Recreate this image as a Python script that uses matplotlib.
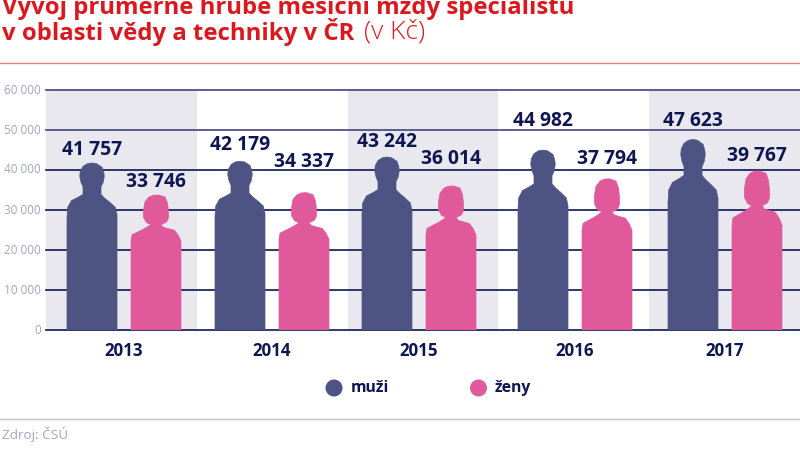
import matplotlib
matplotlib.use("Agg")
import matplotlib.pyplot as plt
from matplotlib.patches import PathPatch, Circle
from matplotlib.path import Path
import numpy as np

years = ["2013", "2014", "2015", "2016", "2017"]
men = [41757, 42179, 43242, 44982, 47623]
women = [33746, 34337, 36014, 37794, 39767]
men_labels = ["41 757", "42 179", "43 242", "44 982", "47 623"]
women_labels = ["33 746", "34 337", "36 014", "37 794", "39 767"]
y_ticks = [0, 10000, 20000, 30000, 40000, 50000, 60000]
y_labels = ["0", "10 000", "20 000", "30 000", "40 000", "50 000", "60 000"]

# layout (pixels of the 800x449 canvas)
W, H = 800, 449
men_cx = [92, 240, 387, 543, 693]
women_cx = [156, 304, 451, 607, 757]
men_lab = [(92, 150), (240, 145), (387, 142), (543, 121), (693, 121)]
women_lab = [(156, 182), (304, 162), (451, 159), (607, 159), (757, 156)]
year_x = [124, 272, 419, 575, 725]

NAVY = "#0d1650"
MAN = "#4d5484"
WOMAN = "#e0599a"
GREY = "#a4a6c2"
BAND = "#e8e8ee"
RED = "#d9191f"

# silhouettes: (x in half-widths, y in fraction of figure height)
man_shape = [(-1,0),(-1,.67),(-.97,.735),(-.82,.775),(-.55,.795),(-.36,.812),(-.36,.858),(-.44,.885),(-.49,.92),(-.47,.95),(-.36,.98),(-.18,.996),(0,1),
             (.18,.996),(.40,.975),(.47,.945),(.49,.92),(.45,.885),(.36,.858),(.36,.812),(.5,.79),(.73,.762),(.93,.735),(1,.69),(1,0)]
woman_shape = [(-1,0),(-1,.66),(-.96,.705),(-.47,.75),(-.2,.78),(-.38,.796),(-.5,.834),(-.5,.89),(-.44,.95),(-.28,.985),(-.1,.998),(.1,1),
               (.36,.985),(.46,.94),(.5,.88),(.5,.83),(.42,.80),(.2,.78),(.3,.76),(.73,.74),(.88,.705),(1,.66),(1,0)]

fig = plt.figure(figsize=(8.0, 4.49), dpi=100)
plt.rcParams["font.family"] = ["Open Sans", "DejaVu Sans"]
ax = fig.add_axes([46/W, 1-330/H, 754/W, 240/H])
ax.set_xlim(46, 800)
ax.set_ylim(0, 60000)
ax.axis("off")

for x0, x1 in [(46, 197), (348, 498), (649, 800)]:
    ax.axvspan(x0, x1, color=BAND, lw=0, zorder=0)
for t in y_ticks:
    ax.plot([46, 800], [t, t], color=NAVY if t < 50000 else "#3f4678", lw=1.2, zorder=1, clip_on=False)

def figure_patch(cx, val, shape, color):
    half = 25
    verts = [(cx + sx*half, sy*val) for sx, sy in shape]
    codes = [Path.MOVETO] + [Path.LINETO]*(len(verts)-1)
    return PathPatch(Path(verts, codes), fc=color, ec=color, lw=0.5, zorder=3, joinstyle="round")

for i in range(5):
    ax.add_patch(figure_patch(men_cx[i], men[i], man_shape, MAN))
    ax.add_patch(figure_patch(women_cx[i], women[i], woman_shape, WOMAN))

def px(x, y):
    return x/W, 1-y/H

for lab, (x, y) in zip(men_labels, men_lab):
    fig.text(*px(x, y), lab, ha="center", va="center", fontsize=13.9, fontweight="bold", color=NAVY, zorder=5)
for lab, (x, y) in zip(women_labels, women_lab):
    fig.text(*px(x, y), lab, ha="center", va="center", fontsize=13.9, fontweight="bold", color=NAVY, zorder=5)
for lab, t in zip(y_labels, y_ticks):
    fig.text(*px(41, 330-t/250), lab, ha="right", va="center", fontsize=8.5, color=GREY)
for lab, x in zip(years, year_x):
    fig.text(*px(x, 351), lab, ha="center", va="center", fontsize=12.2, fontweight="bold", color=NAVY)

# title, rules, legend, source
fig.text(*px(2, 7), "Vývoj průměrné hrubé měsíční mzdy specialistů", ha="left", va="center",
         fontsize=17.2, fontweight="bold", color=RED)
fig.text(*px(2, 32), "v oblasti vědy a techniky v ČR", ha="left", va="center",
         fontsize=17.2, fontweight="bold", color=RED)
fig.text(*px(364, 32), "(v Kč)", ha="left", va="center", fontsize=19, fontweight="light", color=RED)

fig.add_artist(plt.Line2D([0, 1], [1-62.5/H]*2, color="#ea7b80", lw=1))
fig.add_artist(plt.Line2D([0, 1], [1-418.5/H]*2, color="#c2c3d6", lw=1))

ov = fig.add_axes([0, 0, 1, 1], facecolor="none")
ov.set_xlim(0, W); ov.set_ylim(H, 0); ov.axis("off")
ov.add_patch(Circle((334, 388), 8.5, fc=MAN, ec="none"))
ov.add_patch(Circle((478.5, 388), 8.5, fc=WOMAN, ec="none"))
fig.text(*px(351, 388), "muži", ha="left", va="center", fontsize=11.3, fontweight="bold", color=NAVY)
fig.text(*px(495, 388), "ženy", ha="left", va="center", fontsize=11.3, fontweight="bold", color=NAVY)
fig.text(*px(2, 434), "Zdroj: ČSÚ", ha="left", va="center", fontsize=9.7, color=GREY)

fig.savefig("out.png", dpi=100)
